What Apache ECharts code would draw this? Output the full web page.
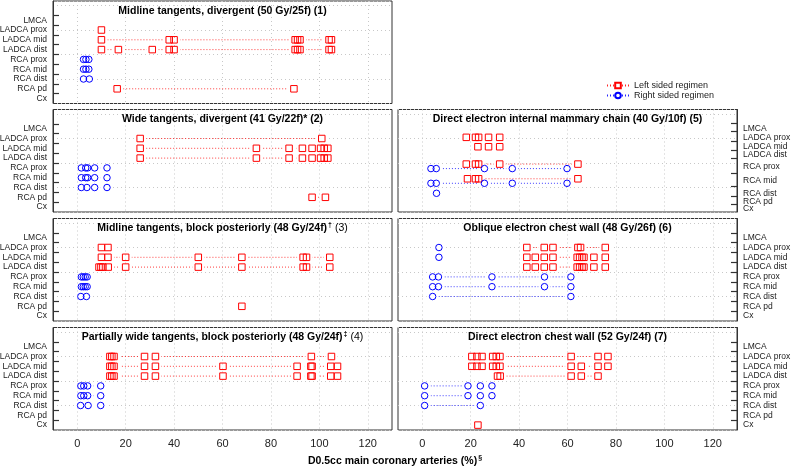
<!DOCTYPE html>
<html><head><meta charset="utf-8">
<script src="https://cdn.jsdelivr.net/npm/echarts@6/dist/echarts.min.js"></script>
<style>html,body{margin:0;padding:0;background:#fff}#c{width:791px;height:469px}</style>
</head><body><div id="c"></div>
<script>
// ---------- data ----------
const ROWS = ['LMCA', 'LADCA prox', 'LADCA mid', 'LADCA dist', 'RCA prox', 'RCA mid', 'RCA dist', 'RCA pd', 'Cx'];
const X_TICKS = [0, 20, 40, 60, 80, 100, 120];
const LEGEND_NAMES = ['Left sided regimen', 'Right sided regimen'];
const X_NAME = 'D0.5cc main coronary arteries (%)';
const X_NAME_SUP = '§';
const TITLES = [
  ['Midline tangents, divergent (50 Gy/25f) (1)', '', ''],
  ['Wide tangents, divergent (41 Gy/22f)* (2)', '', ''],
  ['Midline tangents, block posteriorly (48 Gy/24f)', '†', ' (3)'],
  ['Partially wide tangents, block posteriorly (48 Gy/24f)', '‡', ' (4)'],
  ['Direct electron internal mammary chain (40 Gy/10f) (5)', '', ''],
  ['Oblique electron chest wall (48 Gy/26f) (6)', '', ''],
  ['Direct electron chest wall (52 Gy/24f) (7)', '', '']
];

// values per row (LMCA ... Cx), % of prescription
const P1_LEFT  = [[], [10], [10, 38, 40, 90, 91, 92, 104, 105], [10, 17, 31, 38, 40, 90, 91, 92, 104, 105], [], [], [], [16.5, 89.5], []];
const P1_RIGHT = [[], [], [], [], [2.6, 3.6, 4.8], [2.6, 3.6, 4.8], [2.6, 5], [], []];
const P2_LEFT  = [[], [26, 101], [26, 74, 87.5, 93, 97, 100.5, 102, 103.5], [26, 74, 87.5, 93, 97, 100.5, 102, 103.5], [], [], [], [97, 102.5], []];
const P2_RIGHT = [[], [], [], [], [1.7, 3.5, 4.3, 7.2, 12.3], [1.7, 3.5, 4.3, 7.2, 12.3], [1.7, 4, 7.2, 12.3], [], []];
const P3_LEFT  = [[], [10, 12.7], [10, 12.7, 20, 50, 68, 93.3, 94.7, 104.3], [9, 9.8, 10.6, 12.8, 20, 50, 68, 93.3, 94.7, 104.3], [], [], [], [68], []];
const P3_RIGHT = [[], [], [], [], [1.7, 2.5, 3.3, 4.1], [1.7, 2.5, 3.3, 4.1], [1.5, 3.8], [], []];
const P4_LEFT  = [[], [13.5, 14.3, 15.2, 27.8, 32.3, 96.7, 105], [13.5, 14.3, 15.2, 27.8, 32.3, 60.2, 90.8, 96.5, 97, 104.7, 107.5], [13.5, 14.3, 15.2, 27.8, 32.3, 60.2, 90.8, 96.5, 97, 104.7, 107.5], [], [], [], [], []];
const P4_RIGHT = [[], [], [], [], [1.5, 2.7, 4.3, 9.7], [1.5, 2.7, 4.3, 9.7], [1.4, 4.5, 9.7], [], []];
const P5_LEFT  = [[], [18.2, 22, 23.3, 27.4, 32], [23, 27.4, 32], [], [18.2, 22, 23.3, 32, 64.3], [18.7, 22, 23.3, 64.3], [], [], []];
const P5_RIGHT = [[], [], [], [], [3.6, 5.8, 25.7, 37.2, 59.8], [3.6, 5.8, 25.7, 37.2, 59.8], [5.9], [], []];
const P6_LEFT  = [[], [43.2, 50.4, 54, 64.3, 65.4, 75.6], [43.2, 46.7, 50.4, 54, 64, 65, 66, 66.8, 70.9, 75.6], [43.2, 46.7, 50.4, 54, 64, 65, 66, 66.8, 70.9, 75.6], [], [], [], [], []];
const P6_RIGHT = [[], [6.9], [6.9], [], [4.3, 6.7, 28.8, 50.5, 61.4], [4.3, 6.7, 28.8, 50.5, 61.4], [4.3, 61.4], [], []];
const P7_LEFT  = [[], [20.5, 22.6, 24.7, 29.1, 30.6, 32.1, 61.5, 72.6, 76.7], [20.5, 22.6, 24.7, 29.1, 30.6, 32.1, 61.5, 65.7, 72.6, 76.7], [31.1, 32.2, 61.5, 65.7, 72.6], [], [], [], [], [23]];
const P7_RIGHT = [[], [], [], [], [1, 18.9, 24, 28.8], [1, 18.9, 24, 28.8], [1, 24], [], []];

// ---------- layout ----------
const FONT = '"Liberation Sans", Arial, Helvetica, sans-serif';
const RED = '#ff0000', BLUE = '#0000ff';
const COL_X = [53, 398];
const PANEL_W = 339;
const ROW_Y = [1, 109.5, 218.5, 327.5];
const PANEL_H = 102.5;
const Y_MAX = 10.46;
const STD_ROW_POS = [8.5, 7.5, 6.5, 5.5, 4.5, 3.5, 2.5, 1.5, 0.5];
const STD_TICKS = [1, 2, 3, 4, 5, 6, 7, 8, 9];
const P5_ROW_POS = [8.47, 7.62, 6.66, 5.82, 4.66, 3.16, 1.91, 1.05, 0.31];
const P5_TICKS = [9.05, 8.19, 7.27, 6.33, 5.48, 3.95, 2.58, 1.56, 0.82];
const LABEL_PAD = [10.4, 0.02];   // empty edge labels so that every row label is kept

const PANELS = [
  { col: 0, row: 0, data: [P1_LEFT, P1_RIGHT] },
  { col: 0, row: 1, data: [P2_LEFT, P2_RIGHT] },
  { col: 0, row: 2, data: [P3_LEFT, P3_RIGHT] },
  { col: 0, row: 3, data: [P4_LEFT, P4_RIGHT] },
  { col: 1, row: 1, data: [P5_LEFT, P5_RIGHT], rowPos: P5_ROW_POS, ticks: P5_TICKS, dodge: 0.23 },
  { col: 1, row: 2, data: [P6_LEFT, P6_RIGHT] },
  { col: 1, row: 3, data: [P7_LEFT, P7_RIGHT] }
];

const grid = [], xAxis = [], yAxis = [], series = [], graphic = [];
const RICH = {
  b: { fontFamily: FONT, fontWeight: 'bold', fontSize: 10.5, color: '#000', lineHeight: 13 },
  s: { fontFamily: FONT, fontWeight: 'bold', fontSize: 7, color: '#000', verticalAlign: 'top', lineHeight: 9, padding: [0, 0, 0, 1] },
  n: { fontFamily: FONT, fontWeight: 'normal', fontSize: 10.5, color: '#000', lineHeight: 13 }
};

PANELS.forEach((P, p) => {
  const rowPos = P.rowPos || STD_ROW_POS;
  const ticks = P.ticks || STD_TICKS;
  const side = P.col === 0 ? 'left' : 'right';
  grid.push({
    left: COL_X[P.col], top: ROW_Y[P.row], width: PANEL_W, height: PANEL_H,
    show: true, borderColor: '#333', borderWidth: 1, backgroundColor: 'transparent',
    containLabel: false, outerBoundsMode: 'none'
  });
  xAxis.push({
    type: 'value', gridIndex: p, min: -10, max: 130,
    axisLine: { show: false },
    axisTick: { show: false, customValues: X_TICKS },
    axisLabel: { show: P.row === 3, customValues: X_TICKS, fontFamily: FONT, fontSize: 11, color: '#222', margin: 8 },
    splitLine: { show: true, lineStyle: { color: '#c8c8c8', width: 1, type: [1, 3] } }
  });
  // grid-line axis
  yAxis.push({
    type: 'value', gridIndex: p, min: 0, max: Y_MAX, interval: 2.5, position: side,
    axisLine: { show: false }, axisTick: { show: false }, axisLabel: { show: false },
    splitLine: { show: true, lineStyle: { color: '#c8c8c8', width: 1, type: [1, 3] } }
  });
  // category label axis
  yAxis.push({
    type: 'value', gridIndex: p, min: 0, max: Y_MAX, position: side, offset: 0,
    axisLine: { show: true, onZero: false, lineStyle: { color: '#333', width: 1 } },
    axisTick: { show: true, inside: true, length: 6, customValues: ticks, lineStyle: { color: '#333', width: 1.2 } },
    axisLabel: {
      show: true, customValues: [LABEL_PAD[0], ...rowPos, LABEL_PAD[1]],
      fontFamily: FONT, fontSize: 8.5, lineHeight: 7, color: '#1a1a1a', margin: 6,
      showMinLabel: false, showMaxLabel: false, hideOverlap: false,
      formatter: v => { const i = rowPos.findIndex(r => Math.abs(r - v) < 1e-6); return i >= 0 ? ROWS[i] : ''; }
    },
    splitLine: { show: false }
  });

  [0, 1].forEach(s => {
    const vals = P.data[s], other = P.data[1 - s];
    const color = s === 0 ? RED : BLUE;
    const pts = [];
    vals.forEach((arr, r) => {
      if (!arr.length) return;
      let y = rowPos[r];
      if (P.dodge && other[r].length) y += (s === 0 ? P.dodge : -P.dodge);
      const d = arr.slice().sort((a, b) => a - b).map(v => [v, y]);
      pts.push(...d);
      if (d.length > 1) {
        series.push({
          type: 'line', name: LEGEND_NAMES[s], xAxisIndex: p, yAxisIndex: 2 * p + 1, data: d,
          showSymbol: false, symbol: s === 0 ? 'rect' : 'circle', symbolSize: 6,
          lineStyle: { color, width: 0.9, type: [1, 2], opacity: 0.85 },
          itemStyle: { color: '#fff', borderColor: color, borderWidth: 1 },
          z: 2, silent: true, animation: false
        });
      }
    });
    series.push({
      type: 'scatter', xAxisIndex: p, yAxisIndex: 2 * p + 1, data: pts,
      symbol: 'rect', symbolSize: [12, 3], itemStyle: { color: '#fff', opacity: 1 },
      z: 3, silent: true, animation: false
    });
    series.push({
      type: 'scatter', xAxisIndex: p, yAxisIndex: 2 * p + 1, data: pts,
      symbol: s === 0 ? 'rect' : 'circle', symbolSize: 6.5,
      itemStyle: { color: 'rgba(0,0,0,0)', borderColor: color, borderWidth: 1, opacity: 1 },
      z: 4, silent: true, animation: false
    });
  });

  const t = TITLES[p];
  let txt = '{b|' + t[0] + '}';
  if (t[1]) txt += '{s|' + t[1] + '}';
  if (t[2]) txt += '{n|' + t[2] + '}';
  graphic.push({
    type: 'text', x: COL_X[P.col] + PANEL_W / 2, y: ROW_Y[P.row] + 10, z: 100,
    style: { text: txt, rich: RICH, align: 'center', verticalAlign: 'middle', fontFamily: FONT }
  });
});

graphic.push({
  type: 'text', x: 395, y: 461.5, z: 100,
  style: { text: '{b|' + X_NAME + '}{s|' + X_NAME_SUP + '}', rich: RICH, align: 'center', verticalAlign: 'middle', fontFamily: FONT }
});

const chart = echarts.init(document.getElementById('c'), null, { renderer: 'canvas' });
chart.setOption({
  animation: false,
  backgroundColor: '#fff',
  grid, xAxis, yAxis, series, graphic,
  legend: {
    data: LEGEND_NAMES, orient: 'vertical', left: 601, top: 76,
    itemWidth: 22, itemHeight: 7, itemGap: 1, selectedMode: false,
    textStyle: { fontFamily: FONT, fontSize: 9, color: '#222' }
  }
});
</script>
</body></html>
